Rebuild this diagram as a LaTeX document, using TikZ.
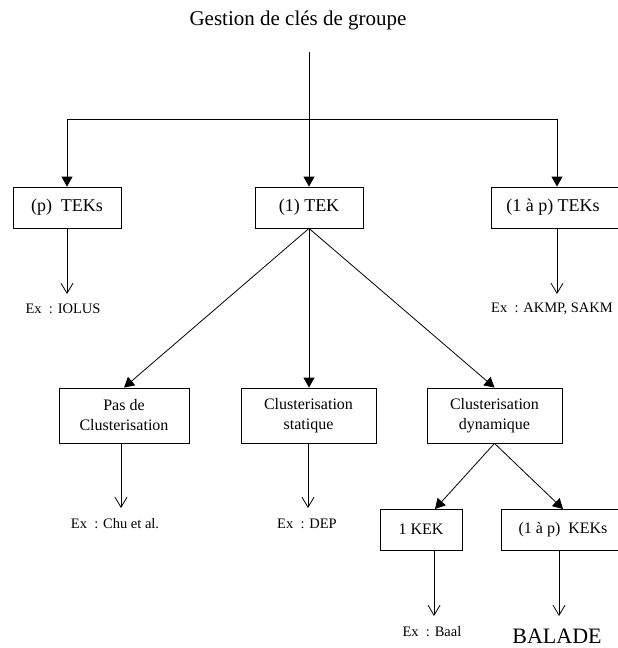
\documentclass[tikz,border=0pt]{standalone}
\usepackage{fontspec}
\setmainfont{Liberation Serif}
\usetikzlibrary{arrows.meta,calc}
\begin{document}
\begin{tikzpicture}[x=1pt,y=-1pt,
  box/.style={draw,line width=0.8pt,inner sep=0pt,align=center,font=\fontsize{18}{20}\selectfont},
  box2/.style={box,font=\fontsize{16}{20}\selectfont},
  ex/.style={inner sep=0pt,font=\fontsize{14.5}{16}\selectfont},
  fa/.style={line width=0.8pt,-{Triangle[width=11pt,length=10pt]}},
  oa/.style={line width=0.8pt,-{Straight Barb[width=12pt,length=10pt,line width=0.8pt]}},
  ln/.style={line width=0.8pt}]
\clip (0,0) rectangle (618,648);
\useasboundingbox (0,0) rectangle (618,648);
\node[inner sep=0pt,font=\fontsize{21}{24}\selectfont] (title) at (298,20) {Gestion de clés de groupe};
\coordinate (top) at (309,52);
\coordinate (jl) at (67,119);
\coordinate (jm) at (309,119);
\coordinate (jr) at (557,119);
\node[box,minimum width=108pt,minimum height=41pt] (pT) at (67,207.5) {(p)\ \ TEKs};
\node[box,minimum width=108pt,minimum height=41pt] (oT) at (309,207.5) {(1) TEK};
\node[box,minimum width=134pt,minimum height=41pt] (apT) at (558,207.5) {(1 à p) TEKs\hspace*{10pt}};
\draw[ln] (top) -- (jm);
\draw[ln] (jl) -- (jr);
\draw[fa] (jl) -- (pT.north);
\draw[fa] (jm) -- (oT.north);
\draw[fa] (jr) -- (apT.north -| jr);
\node[ex] (iolus) at (63,309) {Ex\ \ : IOLUS};
\node[ex] (akmp) at (552,309) {Ex\ \ : AKMP, SAKM};
\coordinate (aI) at (67,294);
\coordinate (aA) at (557,294);
\draw[oa] (pT.south) -- (aI);
\draw[oa] (apT.south -| aA) -- (aA);
\node[box2,minimum width=130pt,minimum height=55pt] (pas) at (124,415.5) {Pas de\\Clusterisation};
\node[box2,minimum width=135pt,minimum height=55pt] (sta) at (308.5,415.5) {Clusterisation\\statique};
\node[box2,minimum width=135pt,minimum height=55pt] (dyn) at (494.5,415.5) {Clusterisation\\dynamique};
\draw[fa] (oT.south) -- (pas.north);
\draw[fa] (oT.south) -- (oT.south |- sta.north);
\draw[fa] (oT.south) -- (dyn.north);
\node[ex] (chu) at (115,524) {Ex\ \ : Chu et al.};
\node[ex] (dep) at (307,524) {Ex\ \ : DEP};
\coordinate (aC) at (121,508);
\coordinate (aD) at (308,508);
\draw[oa] (pas.south -| aC) -- (aC);
\draw[oa] (sta.south -| aD) -- (aD);
\node[box2,minimum width=82pt,minimum height=41pt] (k1) at (421,529.5) {1 KEK};
\node[box2,minimum width=124pt,minimum height=41pt] (kp) at (563,529.5) {(1 à p)\ \ KEKs};
\coordinate (t1) at (435,509);
\coordinate (t2) at (563,509);
\draw[fa] (dyn.south) -- (t1);
\draw[fa] (dyn.south) -- (t2);
\coordinate (aB) at (434,616);
\coordinate (aL) at (559,616);
\draw[oa] (k1.south -| aB) -- (aB);
\draw[oa] (kp.south -| aL) -- (aL);
\node[ex] (baal) at (432,632) {Ex\ \ : Baal};
\node[inner sep=0pt,font=\fontsize{22}{24}\selectfont] (balade) at (557,636) {BALADE};
\end{tikzpicture}
\end{document}
